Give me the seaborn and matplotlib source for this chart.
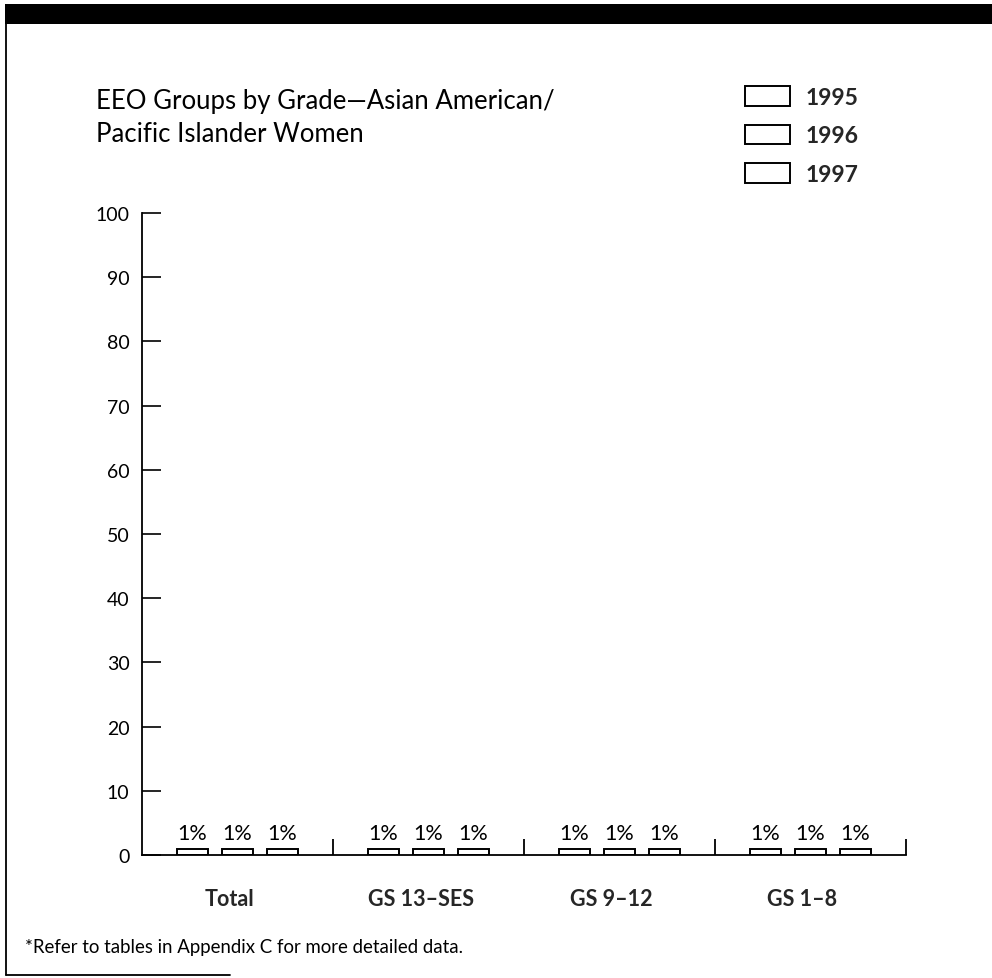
import matplotlib
matplotlib.use("Agg")
import matplotlib.pyplot as plt
import matplotlib.transforms as mtransforms
from matplotlib.patches import Rectangle
from matplotlib.lines import Line2D
import seaborn as sns
import pandas as pd

# Chart data
grades = ["Total", "GS 13–SES", "GS 9–12", "GS 1–8"]
years = ["1995", "1996", "1997"]
pct_1995 = [1, 1, 1, 1]
pct_1996 = [1, 1, 1, 1]
pct_1997 = [1, 1, 1, 1]
y_ticks = [0, 10, 20, 30, 40, 50, 60, 70, 80, 90, 100]

title_text = "EEO Groups by Grade\u2014Asian American/\nPacific Islander Women"
footnote_text = "*Refer to tables in Appendix C for more detailed data."

rows = []
for year, vals in zip(years, [pct_1995, pct_1996, pct_1997]):
    for g, v in zip(grades, vals):
        rows.append({"grade": g, "year": year, "pct": v})
df = pd.DataFrame(rows)

sns.set_style("white")
plt.rcParams["font.family"] = ["Lato", "DejaVu Sans"]

W, H = 992, 979
fig = plt.figure(figsize=(W / 100, H / 100), dpi=100)

# axes box in pixel coordinates: x 142..906, y 214..856 (top-down)
ax_left, ax_right, ax_top, ax_bottom = 142, 906, 214, 856
ax = fig.add_axes([ax_left / W, 1 - ax_bottom / H,
                   (ax_right - ax_left) / W, (ax_bottom - ax_top) / H])

sns.barplot(data=df, x="grade", y="pct", hue="year", order=grades,
            hue_order=years, palette=["white"] * 3, edgecolor="black",
            linewidth=1.4, width=0.707, gap=0.29, saturation=1,
            legend=False, ax=ax)

for cont in ax.containers:
    ax.bar_label(cont, labels=[f"{v:g}%" for v in cont.datavalues],
                 padding=4, fontsize=15.5, color="black")

ax.set_xlim(-0.5, 3.5)
ax.set_ylim(0, 100)
ax.set_yticks(y_ticks)
ax.set_yticklabels([str(t) for t in y_ticks])
ax.tick_params(axis="y", left=True, direction="in", length=13.5, width=1.2,
               labelsize=14, pad=9, colors="black")
ax.tick_params(axis="x", bottom=False, length=0, pad=24)
shift = mtransforms.ScaledTranslation(-8 / 100, 0, fig.dpi_scale_trans)
for lab in ax.get_xticklabels():
    lab.set_fontweight("bold")
    lab.set_fontsize(15.5)
    lab.set_transform(lab.get_transform() + shift)
ax.set_xlabel("")
ax.set_ylabel("")
sns.despine(ax=ax, top=True, right=True)
for side in ("left", "bottom"):
    ax.spines[side].set_linewidth(1.3)
    ax.spines[side].set_color("black")

# group separators rising from the baseline
ax.vlines([0.5, 1.5, 2.5, 3.5], 0, 2.5, colors="black", linewidth=1.3,
          clip_on=False)

# Title
fig.text(96 / W, 1 - 89 / H, title_text, ha="left", va="top",
         fontsize=18.5, linespacing=1.38, color="black")

# Legend
handles = [Rectangle((0, 0), 1, 1, facecolor="white", edgecolor="black",
                     linewidth=1.4) for _ in years]
leg = fig.legend(handles, years, loc="upper left",
                 bbox_to_anchor=(745 / W, 1 - 87 / H), frameon=False,
                 prop={"weight": "bold", "size": 16.5}, handlelength=1.96,
                 handleheight=0.96, labelspacing=0.73, handletextpad=0.7,
                 borderpad=0, borderaxespad=0)

# Footnote
fig.text(25 / W, 1 - 948 / H, footnote_text, ha="left", va="center",
         fontsize=13.4, color="black")

# Page frame: black band along the top, rule on the left and bottom-left
fig.patches.append(Rectangle((5 / W, 1 - 25 / H), 1, 20 / H,
                             transform=fig.transFigure, facecolor="black",
                             edgecolor="none"))
fig.lines.append(Line2D([6 / W, 6 / W], [1 - 25 / H, 1 - 976 / H],
                        transform=fig.transFigure, color="black", linewidth=1.3))
fig.lines.append(Line2D([6 / W, 230 / W], [1 - 976 / H, 1 - 976 / H],
                        transform=fig.transFigure, color="black", linewidth=1.3))

fig.savefig("out.png", dpi=100)
